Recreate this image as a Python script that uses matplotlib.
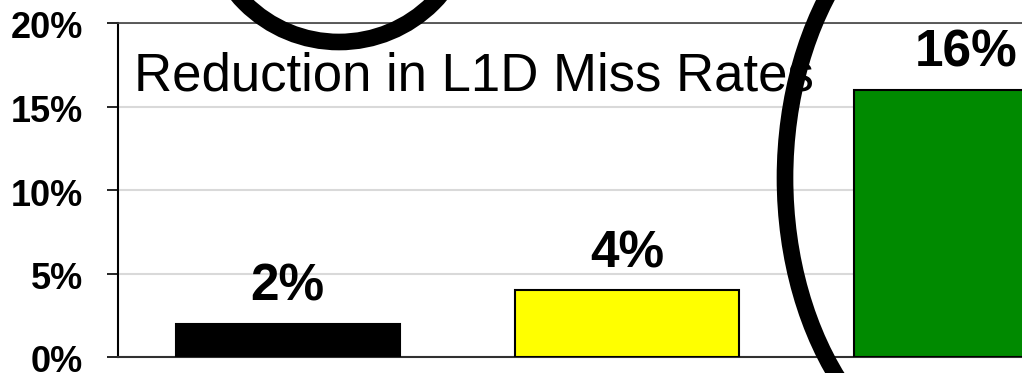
import matplotlib
matplotlib.use("Agg")
import matplotlib.pyplot as plt
from matplotlib.patches import Ellipse
from matplotlib.ticker import FuncFormatter
from matplotlib.transforms import ScaledTranslation

plt.rcParams['font.family'] = ['Liberation Sans', 'DejaVu Sans']

categories = ["A", "B", "C"]
values = [2, 4, 16]
labels = ["2%", "4%", "16%"]
colors = ["#000000", "#FFFF00", "#008A00"]
yticks = [0, 5, 10, 15, 20]
title = "Reduction in L1D Miss Rates"

W, H = 1022, 373
fig = plt.figure(figsize=(W / 100, H / 100), dpi=100)
ax = fig.add_axes([118 / W, 1 - 357 / H, 1018 / W, 334 / H])

x = list(range(len(categories)))
ax.bar(x, values, width=0.66, color=colors, edgecolor="black", linewidth=1.5, zorder=3)
for xi, v, lab in zip(x, values, labels):
    ax.annotate(lab, (xi, v), xytext=(0, 16.5), textcoords="offset points",
                ha="center", va="baseline", fontsize=37, fontweight="bold", zorder=4)

ax.set_xlim(-0.5, 2.5)
ax.set_ylim(0, 20)
ax.set_yticks(yticks)
ax.yaxis.set_major_formatter(FuncFormatter(lambda v, p: f"{v:.0f}%"))
ax.tick_params(axis="y", direction="out", length=8, width=1.2, pad=17, labelsize=26)
shift = ScaledTranslation(0, -2 / 100, fig.dpi_scale_trans)
for t in ax.get_yticklabels():
    t.set_fontweight("bold")
    t.set_transform(t.get_transform() + shift)
ax.set_xticks([])
ax.grid(axis="y", color="#d9d9d9", linewidth=1.5, zorder=0)
ax.spines["left"].set_color("black")
ax.spines["left"].set_linewidth(1.5)
ax.spines["bottom"].set_color("#303030")
ax.spines["bottom"].set_linewidth(1.5)
ax.spines["top"].set_color("#404040")
ax.spines["top"].set_linewidth(1.2)
ax.spines["right"].set_visible(False)

ax.text(16 / 1018, 0.799, title, transform=ax.transAxes, fontsize=38,
        ha="left", va="baseline", zorder=5)

# annotation ellipses (in figure pixel space)
def fig_ellipse(cx, cy, w, h):
    e = Ellipse((cx / W, 1 - cy / H), w / W, h / H, transform=fig.transFigure,
                fill=False, edgecolor="black", linewidth=12, zorder=10)
    fig.add_artist(e)

fig_ellipse(339, -91, 266, 266)
fig_ellipse(992, 178, 414, 600)

fig.savefig("out.png", dpi=100)
